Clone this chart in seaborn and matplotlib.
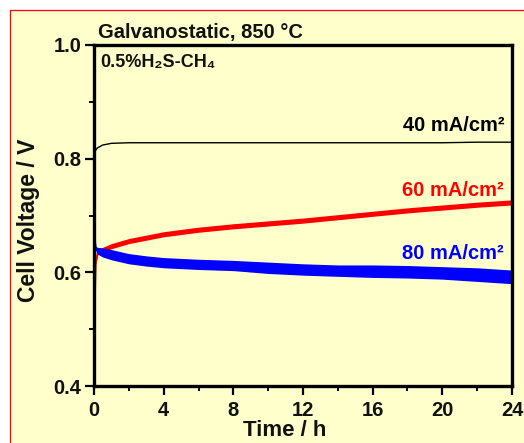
import matplotlib
matplotlib.use("Agg")
import matplotlib.pyplot as plt
import seaborn as sns
import pandas as pd
from matplotlib.lines import Line2D
from matplotlib.patches import Rectangle

# ---- data ----
time_h = [0, 0.05, 0.1, 0.2, 0.5, 1, 2, 3, 4, 6, 8, 10, 12, 14, 16, 18, 20, 22, 24]
v_40 = [0.805, 0.812, 0.815, 0.819, 0.824, 0.827, 0.828, 0.828, 0.828, 0.828, 0.828,
        0.828, 0.828, 0.828, 0.828, 0.828, 0.828, 0.829, 0.829]
v_60 = [0.410, 0.550, 0.615, 0.633, 0.640, 0.646, 0.655, 0.661, 0.667, 0.675, 0.681,
        0.686, 0.691, 0.697, 0.703, 0.709, 0.714, 0.719, 0.723]
spread_60 = [0.0, 0.001, 0.002, 0.003, 0.004, 0.0045, 0.0045, 0.0045, 0.0045, 0.0045,
             0.0045, 0.0045, 0.0045, 0.0045, 0.0045, 0.0045, 0.0045, 0.0045, 0.0045]
v_80 = [0.745, 0.660, 0.642, 0.638, 0.635, 0.631, 0.624, 0.620, 0.617, 0.614, 0.612,
        0.608, 0.605, 0.603, 0.602, 0.601, 0.599, 0.596, 0.592]
spread_80 = [0.0, 0.002, 0.004, 0.006, 0.008, 0.009, 0.009, 0.009, 0.009, 0.009, 0.009,
             0.010, 0.010, 0.010, 0.011, 0.011, 0.011, 0.012, 0.012]

x_ticks = [0, 4, 8, 12, 16, 20, 24]
x_minor = [2, 6, 10, 14, 18, 22]
y_ticks = [0.4, 0.6, 0.8, 1.0]
y_minor = [0.5, 0.7, 0.9]
y_ticklabels = ["0.4", "0.6", "0.8", "1.0"]

labels = ["40 mA/cm²", "60 mA/cm²", "80 mA/cm²"]
colors = ["black", "#FF0000", "#0000FF"]

df = pd.DataFrame({
    "t": time_h * 3,
    "V": v_40 + v_60 + v_80,
    "series": [labels[0]] * len(time_h) + [labels[1]] * len(time_h) + [labels[2]] * len(time_h),
})

sns.set_theme(style="ticks")
plt.rcParams["font.family"] = ["Liberation Sans", "DejaVu Sans"]

W, H = 524, 443
fig = plt.figure(figsize=(W / 100, H / 100), dpi=100)
fig.patch.set_facecolor("white")
bg = "#FFFFCC"
fig.patches.append(Rectangle((10 / W, 0), 1 - 10 / W, 1 - 10 / H, transform=fig.transFigure,
                             facecolor=bg, edgecolor="none", zorder=-10))
fig.lines.append(Line2D([10 / W, 10 / W], [0, 1 - 10 / H], color="red", lw=0.9,
                        transform=fig.transFigure))
fig.lines.append(Line2D([10 / W, 1], [1 - 10 / H, 1 - 10 / H], color="red", lw=0.9,
                        transform=fig.transFigure))

ax = fig.add_axes([94 / W, 1 - 386 / H, (512 - 94) / W, (386 - 45) / H])
ax.set_facecolor(bg)

# red band then blue band then black line
ax.fill_between(time_h, [v - s for v, s in zip(v_60, spread_60)],
                [v + s for v, s in zip(v_60, spread_60)], color=colors[1], lw=0, zorder=2)
ax.fill_between(time_h, [v - s for v, s in zip(v_80, spread_80)],
                [v + s for v, s in zip(v_80, spread_80)], color=colors[2], lw=0, zorder=2.1)
sns.lineplot(data=df, x="t", y="V", hue="series", palette=dict(zip(labels, colors)),
             ax=ax, legend=False, linewidth=1.3, estimator=None, sort=False)
for ln, z, w in zip(ax.lines, [2.2, 2.0, 2.1], [1.0, 1.3, 1.3]):
    ln.set_zorder(z)
    ln.set_linewidth(w)

ax.set_xlim(0, 24)
ax.set_ylim(0.4, 1.0)
ax.set_xticks(x_ticks)
ax.set_xticks(x_minor, minor=True)
ax.set_yticks(y_ticks)
ax.set_yticks(y_minor, minor=True)
ax.set_xticklabels([str(v) for v in x_ticks])
ax.set_yticklabels(y_ticklabels)

for s in ax.spines.values():
    s.set_linewidth(2.4)
    s.set_color("black")
ax.tick_params(which="major", direction="out", length=6.5, width=1.6, colors="black",
               labelsize=14.5, pad=2.5, labelcolor="#111111")
ax.tick_params(which="minor", direction="out", length=3.5, width=1.4, colors="black")
ax.tick_params(axis="x", which="major", pad=4)
for lab in ax.get_xticklabels() + ax.get_yticklabels():
    lab.set_fontweight("bold")

ax.set_xlabel("Time / h", fontsize=16, fontweight="bold", color="#111111")
ax.set_ylabel("Cell Voltage / V", fontsize=16.5, fontweight="bold", color="#111111")
ax.xaxis.set_label_coords(0.457, -0.100)
ax.yaxis.set_label_coords(-0.13, 0.487)

ax.text(0.0096, 1.038, "Galvanostatic, 850 °C", transform=ax.transAxes, fontsize=14.5,
        fontweight="bold", va="center", ha="left", color="#111111")
ax.text(0.014, 0.950, "0.5%H₂S-CH₄", transform=ax.transAxes, fontsize=13,
        fontweight="bold", va="center", ha="left", color="#111111")
label_y = [0.765, 0.572, 0.390]
for txt, c, yy in zip(labels, colors, label_y):
    ax.text(0.981, yy, txt, transform=ax.transAxes, fontsize=14.5, fontweight="bold",
            va="center", ha="right", color=c)

fig.savefig("out.png", dpi=100, facecolor=fig.get_facecolor())
